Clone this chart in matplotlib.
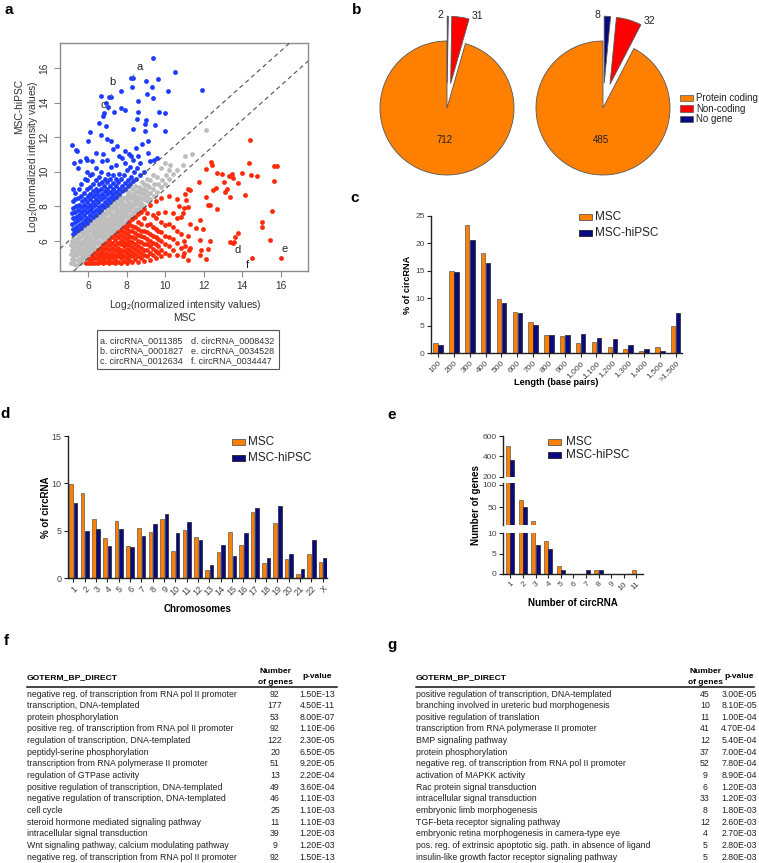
import matplotlib
matplotlib.use('Agg')
import matplotlib.pyplot as plt
from matplotlib.patches import Rectangle
from matplotlib.lines import Line2D
import numpy as np

plt.rcParams['font.family'] = ['Liberation Sans', 'DejaVu Sans']
plt.rcParams['mathtext.fontset'] = 'custom'
plt.rcParams['mathtext.rm'] = 'Liberation Sans'
plt.rcParams['mathtext.it'] = 'Liberation Sans:italic'
plt.rcParams['mathtext.bf'] = 'Liberation Sans:bold'

# ------------------------------------------------------------------ data
# panel a : scatter (x = MSC, y = MSC-hiPSC, log2 intensities)
gray_pts = [
    (5.12,4.72),(5.15,4.98),(5.1,5.25),(5.17,5.5),(5.13,5.78),(5.18,6.02),
    (5.28,4.66),(5.3,4.88),(5.27,5.14),(5.33,5.37),(5.29,5.62),(5.32,5.88),(5.3,6.12),
    (5.44,4.62),(5.46,4.9),(5.42,5.16),(5.47,5.41),(5.45,5.66),(5.43,5.93),(5.47,6.18),(5.44,6.38),
    (5.6,4.7),(5.58,4.95),(5.62,5.22),(5.6,5.46),(5.57,5.7),(5.61,5.96),(5.59,6.24),(5.62,6.5),
    (5.76,4.8),(5.74,5.06),(5.77,5.3),(5.75,5.56),(5.73,5.8),(5.78,6.06),(5.75,6.32),(5.77,6.6),
    (5.9,4.95),(5.92,5.2),(5.88,5.46),(5.91,5.7),(5.93,5.96),(5.89,6.22),(5.92,6.5),(5.9,6.8),
    (6.05,5.1),(6.03,5.36),(6.07,5.6),(6.04,5.86),(6.06,6.1),(6.02,6.36),(6.05,6.62),(6.07,6.9),
    (6.2,5.26),(6.22,5.5),(6.18,5.76),(6.21,6.0),(6.19,6.26),(6.23,6.5),(6.2,6.76),(6.21,7.06),
    (6.35,5.4),(6.33,5.66),(6.37,5.9),(6.34,6.16),(6.36,6.4),(6.32,6.66),(6.35,6.94),(6.37,7.2),
    (6.5,5.56),(6.52,5.8),(6.48,6.06),(6.51,6.3),(6.49,6.56),(6.53,6.8),(6.5,7.06),(6.52,7.34),
    (6.65,5.7),(6.63,5.96),(6.67,6.2),(6.64,6.46),(6.66,6.7),(6.62,6.96),(6.65,7.22),(6.67,7.5),
    (6.8,5.86),(6.82,6.1),(6.78,6.36),(6.81,6.6),(6.79,6.86),(6.83,7.1),(6.8,7.38),(6.82,7.64),
    (6.95,6.0),(6.93,6.26),(6.97,6.5),(6.94,6.76),(6.96,7.0),(6.92,7.26),(6.95,7.54),(6.97,7.8),
    (7.1,6.16),(7.12,6.4),(7.08,6.66),(7.11,6.9),(7.09,7.16),(7.13,7.4),(7.1,7.68),(7.12,7.94),
    (7.25,6.3),(7.23,6.56),(7.27,6.8),(7.24,7.06),(7.26,7.3),(7.22,7.56),(7.25,7.84),(7.27,8.1),
    (7.4,6.46),(7.42,6.7),(7.38,6.96),(7.41,7.2),(7.39,7.46),(7.43,7.7),(7.4,7.98),(7.42,8.24),
    (7.55,6.6),(7.53,6.86),(7.57,7.1),(7.54,7.36),(7.56,7.6),(7.52,7.86),(7.55,8.12),(7.57,8.4),
    (7.7,6.78),(7.72,7.02),(7.68,7.28),(7.71,7.52),(7.69,7.76),(7.73,8.02),(7.7,8.3),(7.72,8.54),
    (7.85,6.94),(7.83,7.2),(7.87,7.44),(7.84,7.7),(7.86,7.92),(7.82,8.18),(7.85,8.46),
    (8.0,7.1),(8.02,7.36),(7.98,7.6),(8.01,7.86),(7.99,8.1),(8.03,8.36),(8.0,8.62),(8.02,8.86),
    (8.15,7.28),(8.17,7.52),(8.13,7.8),(8.16,8.02),(8.14,8.26),(8.18,8.52),(8.15,8.8),
    (8.3,7.42),(8.32,7.7),(8.28,7.96),(8.31,8.2),(8.29,8.46),(8.33,8.72),(8.3,9.0),
    (8.45,7.6),(8.47,7.86),(8.43,8.12),(8.46,8.38),(8.44,8.62),(8.48,8.9),(8.45,9.2),
    (8.6,7.8),(8.62,8.06),(8.58,8.32),(8.61,8.56),(8.59,8.82),(8.63,9.12),
    (8.75,7.92),(8.77,8.2),(8.73,8.5),(8.76,8.76),(8.74,9.02),(8.78,9.4),
    (8.9,8.02),(8.92,8.4),(8.88,8.7),(8.91,9.0),(8.89,9.32),
    (9.05,8.3),(9.07,8.62),(9.03,8.9),(9.06,9.22),(9.04,9.6),
    (9.2,8.44),(9.22,8.8),(9.18,9.12),(9.21,9.5),
    (9.4,8.6),(9.38,9.0),(9.42,9.3),(9.39,9.8),
    (9.6,8.82),(9.62,9.3),(9.58,9.7),
    (9.8,9.1),(9.82,9.5),(9.78,10.2),
    (10.0,9.32),(10.02,9.8),(9.98,10.5),
    (10.2,9.6),(10.22,10.1),(10.27,10.37),(10.6,10.1),(10.4,9.9),
    (11.05,10.89),(11.4,11.03),(12.14,12.39),(10.9,10.4),
]
blue_pts = [
    (5.2,6.4),(5.22,6.7),(5.18,7.0),(5.21,7.3),(5.19,7.6),(5.23,7.9),(5.2,8.3),(5.22,9.0),
    (5.35,6.5),(5.37,6.8),(5.33,7.1),(5.36,7.4),(5.34,7.7),(5.38,8.0),(5.35,8.4),(5.33,8.8),
    (5.5,6.62),(5.52,6.9),(5.48,7.2),(5.51,7.5),(5.49,7.8),(5.53,8.1),(5.5,8.5),(5.52,9.02),
    (5.65,6.76),(5.67,7.05),(5.63,7.35),(5.66,7.65),(5.64,7.95),(5.68,8.3),(5.65,8.6),(5.63,9.3),
    (5.8,6.9),(5.82,7.2),(5.78,7.5),(5.81,7.8),(5.79,8.1),(5.83,8.4),(5.8,8.8),(5.82,9.6),
    (5.95,7.06),(5.97,7.35),(5.93,7.65),(5.96,7.95),(5.94,8.25),(5.98,8.6),(5.95,9.0),(5.97,9.5),(5.93,10.0),
    (6.1,7.2),(6.12,7.5),(6.08,7.8),(6.11,8.1),(6.09,8.4),(6.13,8.7),(6.1,9.1),(6.12,9.8),
    (6.25,7.36),(6.27,7.65),(6.23,7.95),(6.26,8.25),(6.24,8.6),(6.28,8.9),(6.25,9.3),(6.23,9.9),
    (6.4,7.5),(6.42,7.8),(6.38,8.1),(6.41,8.4),(6.39,8.7),(6.43,9.0),(6.4,9.5),(6.42,10.2),
    (6.55,7.66),(6.57,7.95),(6.53,8.25),(6.56,8.6),(6.54,8.9),(6.58,9.3),(6.55,9.7),
    (6.7,7.8),(6.72,8.1),(6.68,8.4),(6.71,8.7),(6.69,9.0),(6.73,9.4),(6.7,10.0),(6.72,10.6),
    (6.85,7.96),(6.87,8.25),(6.83,8.55),(6.86,8.9),(6.84,9.2),(6.88,9.6),
    (7.0,8.1),(7.02,8.4),(6.98,8.7),(7.01,9.0),(6.99,9.4),(7.03,9.9),(7.0,10.7),
    (7.15,8.26),(7.17,8.55),(7.13,8.85),(7.16,9.2),(7.14,9.6),(7.18,10.3),
    (7.3,8.4),(7.32,8.7),(7.28,9.0),(7.31,9.35),(7.29,9.8),
    (7.45,8.56),(7.47,8.85),(7.43,9.2),(7.46,9.6),(7.44,10.4),
    (7.6,8.7),(7.62,9.0),(7.58,9.4),(7.61,9.9),
    (7.75,8.86),(7.77,9.2),(7.73,9.6),(7.76,10.8),
    (7.9,9.0),(7.92,9.35),(7.88,9.8),(7.91,10.5),
    (8.05,9.16),(8.07,9.5),(8.03,10.1),
    (8.2,9.3),(8.22,9.7),(8.18,10.3),(8.21,10.9),
    (8.35,9.46),(8.37,10.0),(8.33,10.7),
    (8.5,9.6),(8.52,10.2),(8.7,9.8),(8.72,10.5),(8.9,10.0),(9.2,10.6),(9.6,10.8),(9.1,11.1),(9.4,10.7),
    (5.3,10.5),(5.9,10.8),(5.95,10.7),(5.6,10.6),(5.5,10.2),(6.2,10.6),(6.4,11.1),(6.8,11.0),
    (7.0,11.9),(7.2,11.8),(7.5,11.5),(7.3,11.3),(7.9,11.2),(8.5,11.4),(8.8,11.6),(9.1,11.8),
    (7.6,10.9),(8.1,11.0),(8.6,10.9),
    (9.37,16.6),(8.25,15.45),(8.33,15.45),(10.5,15.79),(9.63,15.36),(9.0,15.25),(8.3,14.9),
    (9.32,14.9),(10.15,14.7),(11.92,14.72),(7.73,14.67),(7.1,14.3),(7.2,14.3),(6.69,14.39),
    (8.61,14.1),(9.06,14.5),(9.37,14.25),(6.95,14.0),(7.06,13.75),(7.73,13.7),(7.9,13.6),
    (7.35,13.45),(6.83,13.42),(6.78,13.2),(8.58,13.48),(9.68,13.48),(10.0,13.42),(9.03,12.99),
    (8.56,13.03),(9.46,12.7),(8.98,12.74),(6.57,12.83),(6.95,12.64),(6.69,12.15),(6.09,12.29),
    (8.34,12.45),(8.94,12.35),(9.98,12.35),(5.17,11.53),(5.4,11.28),(5.43,11.18),(6.0,11.77),
]
red_pts = [
    (5.9,4.75),(6.05,4.75),(6.05,4.95),(6.2,4.7),(6.2,4.95),(6.2,5.15),
    (6.35,4.75),(6.35,5.0),(6.35,5.3),(6.5,4.7),(6.5,4.95),(6.5,5.2),(6.5,5.45),
    (6.65,4.8),(6.65,5.05),(6.65,5.3),(6.65,5.6),(6.8,4.7),(6.8,4.95),(6.8,5.2),(6.8,5.45),(6.8,5.75),
    (6.95,4.8),(6.95,5.05),(6.95,5.3),(6.95,5.6),(6.95,5.9),
    (7.1,4.7),(7.1,4.95),(7.1,5.2),(7.1,5.45),(7.1,5.75),(7.1,6.05),
    (7.25,4.8),(7.25,5.05),(7.25,5.3),(7.25,5.6),(7.25,5.9),(7.25,6.2),
    (7.4,4.7),(7.4,4.95),(7.4,5.2),(7.4,5.5),(7.4,5.75),(7.4,6.05),(7.4,6.35),
    (7.55,4.8),(7.55,5.1),(7.55,5.35),(7.55,5.6),(7.55,5.9),(7.55,6.2),(7.55,6.5),
    (7.7,4.75),(7.7,5.0),(7.7,5.25),(7.7,5.5),(7.7,5.8),(7.7,6.05),(7.7,6.35),(7.7,6.65),
    (7.85,4.85),(7.85,5.1),(7.85,5.4),(7.85,5.7),(7.85,5.95),(7.85,6.25),(7.85,6.5),(7.85,6.8),
    (8.0,4.75),(8.0,5.0),(8.0,5.3),(8.0,5.55),(8.0,5.85),(8.0,6.1),(8.0,6.4),(8.0,6.7),(8.0,6.95),
    (8.15,4.9),(8.15,5.2),(8.15,5.45),(8.15,5.75),(8.15,6.0),(8.15,6.3),(8.15,6.6),(8.15,6.9),(8.15,7.1),
    (8.3,4.8),(8.3,5.1),(8.3,5.35),(8.3,5.65),(8.3,5.95),(8.3,6.2),(8.3,6.55),(8.3,6.85),(8.3,7.25),
    (8.45,4.95),(8.45,5.25),(8.45,5.55),(8.45,5.85),(8.45,6.15),(8.45,6.45),(8.45,6.8),(8.45,7.4),
    (8.6,4.8),(8.6,5.1),(8.6,5.4),(8.6,5.7),(8.6,6.0),(8.6,6.35),(8.6,6.7),(8.6,7.1),(8.6,7.55),
    (8.75,5.0),(8.75,5.3),(8.75,5.6),(8.75,5.95),(8.75,6.3),(8.75,6.6),(8.75,7.0),(8.75,7.7),
    (8.9,4.85),(8.9,5.2),(8.9,5.5),(8.9,5.85),(8.9,6.2),(8.9,6.6),(8.9,7.3),(8.9,7.85),
    (9.05,5.1),(9.05,5.45),(9.05,5.8),(9.05,6.1),(9.05,6.5),(9.05,6.9),(9.05,7.6),
    (9.2,4.9),(9.2,5.3),(9.2,5.7),(9.2,6.0),(9.2,6.4),(9.2,7.0),(9.2,8.1),
    (9.35,5.2),(9.35,5.55),(9.35,5.9),(9.35,6.3),(9.35,6.8),(9.35,7.5),
    (9.5,5.0),(9.5,5.4),(9.5,5.8),(9.5,6.2),(9.5,6.7),(9.5,7.3),(9.5,8.3),
    (9.65,5.3),(9.65,5.7),(9.65,6.1),(9.65,6.6),(9.65,7.6),
    (9.8,5.1),(9.8,5.5),(9.8,6.0),(9.8,6.5),(9.8,7.1),(9.8,8.5),
    (10.0,5.3),(10.0,5.8),(10.0,6.3),(10.0,6.9),(10.0,7.7),
    (10.2,5.2),(10.2,5.7),(10.2,6.2),(10.2,7.0),(10.2,8.6),
    (10.4,5.5),(10.4,6.1),(10.4,6.8),(10.4,7.6),
    (10.6,5.2),(10.6,5.9),(10.6,6.6),(10.6,7.3),(10.6,8.4),
    (10.8,5.6),(10.8,6.4),(10.8,7.4),(11.0,6.0),(11.0,7.9),
    (10.9,5.1),(11.0,5.3),(10.7,8.0),(10.9,7.6),(11.2,6.3),(11.3,7.0),(11.3,5.6),(11.05,8.7),(11.2,9.0),
    (11.76,9.38),(12.37,10.56),(12.4,10.4),(12.14,10.15),(12.66,9.92),(12.92,9.86),(12.63,9.05),
    (12.5,8.95),(12.1,8.56),(12.23,8.08),(12.3,8.1),(12.7,7.84),(11.31,8.97),(11.07,8.37),
    (11.19,7.94),(11.8,7.2),(11.62,6.72),(11.97,6.68),(11.8,6.04),(12.32,6.0),(11.88,5.5),
    (12.23,5.55),(11.8,5.17),(12.1,4.97),(11.24,5.5),(11.19,4.87),(11.02,5.7),(13.04,9.38),
    (13.32,9.73),(13.44,9.88),(13.52,9.63),(13.1,8.85),(13.18,8.99),(13.35,8.52),(13.77,9.34),
    (13.96,9.92),(14.36,10.5),(14.45,9.79),(14.74,9.73),(14.39,11.83),(14.13,8.66),(15.52,7.75),
    (15.64,10.35),(15.78,10.35),(15.66,9.44),(15.0,7.1),(15.0,6.8),(15.43,6.04),(13.75,6.43),
    (13.6,6.2),(13.35,5.94),(13.52,5.9),(13.55,5.92),(14.51,5.01),(16.0,5.03),
]
fold_log2 = 1.0
highlight_names = ['a', 'b', 'c', 'd', 'e', 'f']
highlight_x = [8.28, 7.21, 7.06, 13.52, 16.0, 14.51]
highlight_y = [15.46, 14.33, 13.55, 5.9, 5.03, 5.01]
highlight_ids = ['circRNA_0011385', 'circRNA_0001827', 'circRNA_0012634',
                 'circRNA_0008432', 'circRNA_0034528', 'circRNA_0034447']

# panel b : pies
pie_cats = ['Protein coding', 'Non-coding', 'No gene']
pie_msc = [712, 31, 2]
pie_hipsc = [485, 32, 8]

# panel c : length distribution (% of circRNA)
length_bins = ['100', '200', '300', '400', '500', '600', '700', '800', '900',
               '1,000', '1,100', '1,200', '1,300', '1,400', '1,500', '>1,500']
len_msc = [1.8, 14.9, 23.3, 18.3, 9.9, 7.5, 5.6, 3.3, 3.1, 1.75, 2.0, 1.1, 0.8, 0.35, 1.1, 5.0]
len_hipsc = [1.5, 14.7, 20.7, 16.5, 9.1, 7.3, 5.2, 3.2, 3.3, 3.45, 2.7, 2.5, 1.5, 0.8, 0.35, 7.3]

# panel d : chromosomes (% of circRNA)
chromosomes = ['1', '2', '3', '4', '5', '6', '7', '8', '9', '10', '11', '12',
               '13', '14', '15', '16', '17', '18', '19', '20', '21', '22', 'X']
chr_msc = [9.9, 8.96, 6.18, 4.18, 6.0, 3.37, 5.23, 4.81, 6.18, 2.81, 5.09, 4.32,
           0.81, 2.7, 4.85, 3.48, 6.95, 1.58, 5.8, 2.0, 0.42, 2.56, 1.72]
chr_hipsc = [7.97, 4.95, 5.16, 3.4, 5.16, 3.23, 4.39, 5.69, 6.81, 4.74, 5.87, 3.97,
             1.37, 3.44, 2.28, 4.74, 7.41, 2.1, 7.62, 2.49, 0.98, 4.0, 2.1]

# panel e : number of circRNA per gene
n_circ = ['1', '2', '3', '4', '5', '6', '7', '8', '9', '10', '11']
genes_msc = [500, 67, 18, 8, 2, 0, 0, 1, 0, 0, 1]
genes_hipsc = [365, 50, 7, 6, 1, 0, 1, 1, 0, 0, 0]

series_names = ['MSC', 'MSC-hiPSC']

# panels f, g : GO tables
f_terms = ['negative reg. of transcription from RNA pol II promoter',
           'transcription, DNA-templated',
           'protein phosphorylation',
           'positive reg. of transcription from RNA pol II promoter',
           'regulation of transcription, DNA-templated',
           'peptidyl-serine phosphorylation',
           'transcription from RNA polymerase II promoter',
           'regulation of GTPase activity',
           'positive regulation of transcription, DNA-templated',
           'negative regulation of transcription, DNA-templated',
           'cell cycle',
           'steroid hormone mediated signaling pathway',
           'intracellular signal transduction',
           'Wnt signaling pathway, calcium modulating pathway',
           'negative reg. of transcription from RNA pol II promoter']
f_genes = [92, 177, 53, 92, 122, 20, 51, 13, 49, 46, 25, 11, 39, 9, 92]
f_pvals = ['1.50E-13', '4.50E-11', '8.00E-07', '1.10E-06', '2.30E-05', '6.50E-05',
           '9.20E-05', '2.20E-04', '3.60E-04', '1.10E-03', '1.10E-03', '1.10E-03',
           '1.20E-03', '1.20E-03', '1.50E-13']
g_terms = ['positive regulation of transcription, DNA-templated',
           'branching involved in ureteric bud morphogenesis',
           'positive regulation of translation',
           'transcription from RNA polymerase II promoter',
           'BMP signaling pathway',
           'protein phosphorylation',
           'negative reg. of transcription from RNA pol II promoter',
           'activation of MAPKK activity',
           'Rac protein signal transduction',
           'intracellular signal transduction',
           'embryonic limb morphogenesis',
           'TGF-beta receptor signaling pathway',
           'embryonic retina morphogenesis in camera-type eye',
           'pos. reg. of extrinsic apoptotic sig. path. in absence of ligand',
           'insulin-like growth factor receptor signaling pathway']
g_genes = [45, 10, 11, 41, 12, 37, 52, 9, 6, 33, 8, 12, 4, 5, 5]
g_pvals = ['3.00E-05', '8.10E-05', '1.00E-04', '4.70E-04', '5.40E-04', '7.00E-04',
           '7.80E-04', '8.90E-04', '1.20E-03', '1.20E-03', '1.80E-03', '2.60E-03',
           '2.70E-03', '2.80E-03', '2.80E-03']

# ------------------------------------------------------------------ style
ORANGE = '#FF8000'
NAVY = '#0A0A80'
RED = '#FF0000'
BAR_EDGE = '#5a5a5a'
W, H = 759, 863
fig = plt.figure(figsize=(W / 100, H / 100), dpi=100)


def add_ax(l, t, r, b):
    return fig.add_axes([l / W, 1 - b / H, (r - l) / W, (b - t) / H])


def ftext(x, y, s, **kw):
    return fig.text(x / W, 1 - y / H, s, **kw)


def frect(x0, y0, x1, y1, **kw):
    fig.patches.append(Rectangle((x0 / W, 1 - y1 / H), (x1 - x0) / W, (y1 - y0) / H,
                                 transform=fig.transFigure, **kw))


def fline(x0, y0, x1, y1, **kw):
    fig.lines.append(Line2D([x0 / W, x1 / W], [1 - y0 / H, 1 - y1 / H],
                            transform=fig.transFigure, **kw))


# panel letters
for letter, (px, py) in zip('abcdefg', [(9, 10), (357, 10), (355, 198), (5, 414),
                                        (392, 415), (6, 641), (392, 645)]):
    ftext(px, py, letter, fontsize=11, fontweight='bold', ha='center', va='center')

# ------------------------------------------------------------------ panel a
ax = add_ax(60, 43, 308, 271)
ax.set_xlim(4.55, 17.4)
ax.set_ylim(4.26, 17.45)
for sp in ax.spines.values():
    sp.set_color('#8c8c8c')
    sp.set_linewidth(1.0)
for pts, col in [(gray_pts, '#bdbdbd'), (blue_pts, '#1e3cff'), (red_pts, '#ff2a0a')]:
    xs, ys = zip(*pts)
    ax.scatter(xs, ys, s=12, c=col, linewidths=0, zorder=2)
ax.axline((6, 6 + fold_log2), slope=1, ls=(0, (4, 3)), color='#505050', lw=0.8, zorder=3)
ax.axline((6, 6 - fold_log2), slope=1, ls=(0, (4, 3)), color='#505050', lw=0.8, zorder=3)
ax.set_xticks([6, 8, 10, 12, 14, 16])
ax.set_yticks([6, 8, 10, 12, 14, 16])
ax.tick_params(colors='#8c8c8c', labelcolor='#333333', labelsize=7.4, length=4, width=0.8)
for lab in ax.get_yticklabels():
    lab.set_rotation(90)
    lab.set_va('center')
txt_off = [(0.4, 0.62), (0.04, 0.85), (-0.25, 0.33), (0.23, -0.45), (0.17, 0.52), (-0.26, -0.41)]
for name, hx, hy, (dx, dy) in zip(highlight_names, highlight_x, highlight_y, txt_off):
    ax.annotate(name, xy=(hx, hy), xytext=(hx + dx, hy + dy), fontsize=8, ha='center',
                va='center', color='#222222',
                arrowprops=dict(arrowstyle='-', color='#666666', lw=0.6, shrinkA=3, shrinkB=0))
ftext(185, 305, r'Log$_\mathregular{2}$(normalized intensity values)', fontsize=7.4,
      ha='center', va='center', color='#333333')
ftext(185, 318, 'MSC', fontsize=7.4, ha='center', va='center', color='#333333')
ftext(33, 157, r'Log$_\mathregular{2}$(normalized intensity values)', fontsize=7.4,
      ha='center', va='center', rotation=90, color='#333333')
ftext(19, 106, 'MSC-hiPSC', fontsize=7.4, ha='center', va='center', rotation=90,
      color='#333333')
frect(97, 330, 279, 369, facecolor='none', edgecolor='#555555', lw=0.8)
for i, (name, cid) in enumerate(zip(highlight_names, highlight_ids)):
    col, row = divmod(i, 3)
    ftext([100, 191][col], 340.5 + row * 10.3, f'{name}. {cid}', fontsize=6.5,
          ha='left', va='center', color='#333333')

# ------------------------------------------------------------------ panel b
pie_colors = [ORANGE, RED, NAVY]
R_PX = 67
HALF = 97
for (cx, cy), counts in [((447, 108), pie_msc), ((603, 108), pie_hipsc)]:
    pax = add_ax(cx - HALF, cy - HALF, cx + HALF, cy + HALF)
    wedges, _ = pax.pie(counts, colors=pie_colors, startangle=90, counterclock=True,
                        explode=[0, 0.37, 0.37],
                        wedgeprops=dict(edgecolor='#555555', linewidth=0.6))
    lim = HALF / R_PX
    pax.set_xlim(-lim, lim)
    pax.set_ylim(-lim, lim)
    pax.axis('off')
    pax.text(-0.03, -0.48, str(counts[0]), fontsize=7, ha='center', va='center', color='#222222')
    w_nc, w_ng = wedges[1], wedges[2]
    a1 = np.deg2rad(w_nc.theta1)
    px = w_nc.center[0] + w_nc.r * np.cos(a1)
    py = w_nc.center[1] + w_nc.r * np.sin(a1)
    pax.text(px + 0.04, py + 0.05, str(counts[1]), fontsize=7.5, ha='left', va='center',
             color='#222222')
    a2 = np.deg2rad(w_ng.theta2)
    px = w_ng.center[0] + w_ng.r * np.cos(a2)
    py = w_ng.center[1] + w_ng.r * np.sin(a2)
    pax.text(px - 0.06, py + 0.02, str(counts[2]), fontsize=7.5, ha='right', va='center',
             color='#222222')
for i, (cat, col) in enumerate(zip(pie_cats, pie_colors)):
    yc = 98 + i * 10.5
    frect(680, yc - 3.3, 693, yc + 3.3, facecolor=col, edgecolor='#555555', lw=0.5)
    ftext(696, yc, cat, fontsize=7, ha='left', va='center', color='#222222')


# ------------------------------------------------------------------ bar helper
def bars(ax, cats, v1, v2, width, off, xlim, ylim, yticks, fs_tick=6):
    x = np.arange(len(cats))
    ax.bar(x - off, v1, width, color=ORANGE, edgecolor=BAR_EDGE, linewidth=0.5, zorder=2)
    ax.bar(x + off, v2, width, color=NAVY, edgecolor='#202020', linewidth=0.5, zorder=2)
    ax.set_xlim(*xlim)
    ax.set_ylim(*ylim)
    ax.set_yticks(yticks)
    ax.set_xticks(x)
    ax.set_xticklabels(cats, rotation=45, ha='right', va='top', rotation_mode='anchor')
    for s in ['top', 'right']:
        ax.spines[s].set_visible(False)
    for s in ['left', 'bottom']:
        ax.spines[s].set_color('#222222')
        ax.spines[s].set_linewidth(1.0)
    ax.tick_params(length=3, width=0.8, colors='#222222', labelcolor='#444444',
                   labelsize=fs_tick, pad=1.5)
    ax.patch.set_visible(False)


def legend(x0, ys, text_x, fs):
    for yc, col, name in zip(ys, [ORANGE, NAVY], series_names):
        frect(x0, yc - 3.3, x0 + 13, yc + 3.3, facecolor=col,
              edgecolor=BAR_EDGE if col == ORANGE else '#202020', lw=0.6)
        ftext(text_x, yc, name, fontsize=fs, ha='left', va='center', color='#222222')


# ------------------------------------------------------------------ panel c
cax = add_ax(431, 216, 682, 353)
bars(cax, length_bins, len_msc, len_hipsc, 0.28, 0.16, (-0.45, 15.4), (0, 25), [0, 5, 10, 15, 20, 25])
ftext(556, 382, 'Length (base pairs)', fontsize=6.6, fontweight='bold', ha='center', va='center')
ftext(407, 285, '% of circRNA', fontsize=6.6, fontweight='bold', ha='center', va='center', rotation=90)
legend(579, [217, 233], 595, 8.5)

# ------------------------------------------------------------------ panel d
dax = add_ax(68, 436, 327, 578)
bars(dax, chromosomes, chr_msc, chr_hipsc, 0.32, 0.2, (-0.47, 22.37), (0, 15), [0, 5, 10, 15], fs_tick=6.5)
ftext(198, 609, 'Chromosomes', fontsize=7, fontweight='bold', ha='center', va='center')
ftext(46, 507, '% of circRNA', fontsize=7, fontweight='bold', ha='center', va='center', rotation=90)
legend(232, [442, 458], 248, 8.5)

# ------------------------------------------------------------------ panel e (broken axis)
segments = [((436, 476.7), (200, 600), [200, 400, 600]),
            ((482.7, 525), (10, 105), [50, 100]),
            ((533, 574), (0, 10), [0, 5, 10])]
for k, ((top, bot), ylim, yt) in enumerate(segments):
    eax = add_ax(503, top, 643, bot)
    bars(eax, n_circ, genes_msc, genes_hipsc, 0.32, 0.17, (-0.58, 10.53), ylim, yt, fs_tick=6)
    if k < 2:
        eax.spines['bottom'].set_visible(False)
        eax.tick_params(axis='x', bottom=False, labelbottom=False)
ftext(573, 603, 'Number of circRNA', fontsize=7, fontweight='bold', ha='center', va='center')
ftext(476, 505, 'Number of genes', fontsize=7, fontweight='bold', ha='center', va='center', rotation=90)
legend(548, [442, 455], 566, 8.5)


# ------------------------------------------------------------------ tables f, g
def table(x_text, x_num, x_p, x_line_end, terms, genes, pvals):
    ftext(x_text, 678, 'GOTERM_BP_DIRECT', fontsize=6.1, fontweight='bold', ha='left', va='center')
    ftext(x_num, 671, 'Number', fontsize=6.0, fontweight='bold', ha='center', va='center')
    ftext(x_num, 682, 'of genes', fontsize=6.0, fontweight='bold', ha='center', va='center')
    ftext(x_p, 677, 'p-value', fontsize=6.0, fontweight='bold', ha='center', va='center')
    fline(x_text, 686.5, x_line_end, 686.5, color='#111111', lw=1.1)
    for i, (t, n, p) in enumerate(zip(terms, genes, pvals)):
        y = 694 + i * 11.65
        ftext(x_text, y, t, fontsize=6.3, ha='left', va='center', color='#222222')
        ftext(x_num, y, str(n), fontsize=6.3, ha='center', va='center', color='#222222')
        ftext(x_p, y, p, fontsize=6.3, ha='center', va='center', color='#222222')


table(27, 275, 317, 337, f_terms, f_genes, f_pvals)
table(416, 705, 739, 754, g_terms, g_genes, g_pvals)

fig.savefig('out.png', dpi=100)
